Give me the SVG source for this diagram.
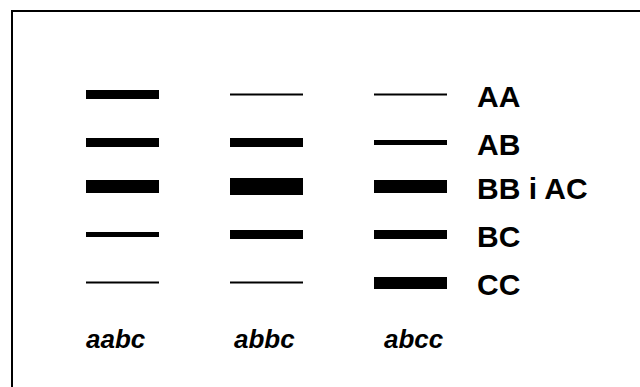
<svg xmlns="http://www.w3.org/2000/svg" width="640" height="387" viewBox="0 0 640 387">
<style>
.band{fill:#000}
.lbl{font-family:"Liberation Sans",Arial,sans-serif;font-weight:bold;font-size:30px;fill:#000}
.smp{font-family:"Liberation Sans",Arial,sans-serif;font-weight:bold;font-style:italic;font-size:26px;fill:#000}
</style>
<rect x="0" y="0" width="640" height="387" fill="#fff"/>
<rect x="12" y="11" width="640" height="400" fill="none" stroke="#000" stroke-width="2"/>
<g id="lane-aabc">
<rect class="band" x="86" y="90" width="73" height="9"/>
<rect class="band" x="86" y="138" width="73" height="9"/>
<rect class="band" x="86" y="180" width="73" height="13"/>
<rect class="band" x="86" y="232" width="73" height="5"/>
<rect class="band" x="86" y="281.5" width="73" height="2"/>
<text class="smp" x="86" y="348">aabc</text>
</g>
<g id="lane-abbc">
<rect class="band" x="230" y="93.5" width="73" height="2"/>
<rect class="band" x="230" y="138" width="73" height="9"/>
<rect class="band" x="230" y="178" width="73" height="17"/>
<rect class="band" x="230" y="230" width="73" height="9"/>
<rect class="band" x="230" y="281.5" width="73" height="2"/>
<text class="smp" x="234" y="348">abbc</text>
</g>
<g id="lane-abcc">
<rect class="band" x="374" y="93.5" width="73" height="2"/>
<rect class="band" x="374" y="140" width="73" height="5"/>
<rect class="band" x="374" y="180" width="73" height="13"/>
<rect class="band" x="374" y="230" width="73" height="9"/>
<rect class="band" x="374" y="277" width="73" height="12"/>
<text class="smp" x="384" y="348">abcc</text>
</g>
<g id="labels">
<text class="lbl" x="477" y="107">AA</text>
<text class="lbl" x="477" y="155">AB</text>
<text class="lbl" x="477" y="199">BB i AC</text>
<text class="lbl" x="477" y="247">BC</text>
<text class="lbl" x="477" y="295">CC</text>
</g>
</svg>
